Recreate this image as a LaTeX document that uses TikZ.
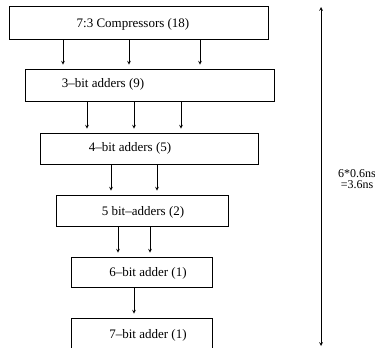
\documentclass[tikz,border=0pt]{standalone}
\usepackage{fontspec}
\setmainfont{Liberation Serif}
\usepackage{tikz}
\usetikzlibrary{arrows,positioning,calc}

\begin{document}
\begin{tikzpicture}[>=stealth, x=1pt, y=-1pt,
                    every node/.style={font=\fontsize{13}{11}\selectfont},
                    blk/.style={draw, line width=0.7pt, inner sep=0pt},
                    flow/.style={->, line width=0.7pt, shorten >=4pt}]
  \useasboundingbox (0,0) rectangle (375,348);

  % stages (boxes, labels sit a bit off centre as in the scan)
  \node[blk, minimum width=259pt, minimum height=33pt] (cmp) at (138.5,22.5) {};
  \node (cmpl) at (133,24) {7:3 Compressors (18)};
  \node[blk, minimum width=249pt, minimum height=32pt] (add3) at (149.5,85) {};
  \node (add3l) at (103,84) {3--bit adders (9)};
  \node[blk, minimum width=218pt, minimum height=31pt] (add4) at (149,148.5) {};
  \node (add4l) at (130,148) {4--bit adders (5)};
  \node[blk, minimum width=172pt, minimum height=31pt] (add5) at (142,210.5) {};
  \node (add5l) at (143,212) {5 bit--adders (2)};
  \node[blk, minimum width=141pt, minimum height=30pt] (add6) at (141.5,272) {};
  \node (add6l) at (148,273) {6--bit adder (1)};
  \node[blk, minimum width=141pt, minimum height=31pt] (add7) at (141.5,333.5) {};
  \node (add7l) at (148,335) {7--bit adder (1)};

  % connections between stages
  \foreach \x in {63,129,200}
    \draw[flow] (cmp.south -| \x,0) -- (add3.north -| \x,0);
  \foreach \x in {87,134,181}
    \draw[flow] (add3.south -| \x,0) -- (add4.north -| \x,0);
  \foreach \x in {111,157}
    \draw[flow] (add4.south -| \x,0) -- (add5.north -| \x,0);
  \foreach \x in {118,150}
    \draw[flow] (add5.south -| \x,0) -- (add6.north -| \x,0);
  \draw[flow] (add6.south -| 134,0) -- (add7.north -| 134,0);

  % total delay
  \coordinate (ttop) at (321,7);
  \coordinate (tbot) at (321,346);
  \draw[<->, line width=0.7pt] (ttop) -- (tbot);
  \node[align=center, font=\fontsize{12}{11}\selectfont] (delay) at (357,179) {6*0.6ns\\=3.6ns};
\end{tikzpicture}
\end{document}
